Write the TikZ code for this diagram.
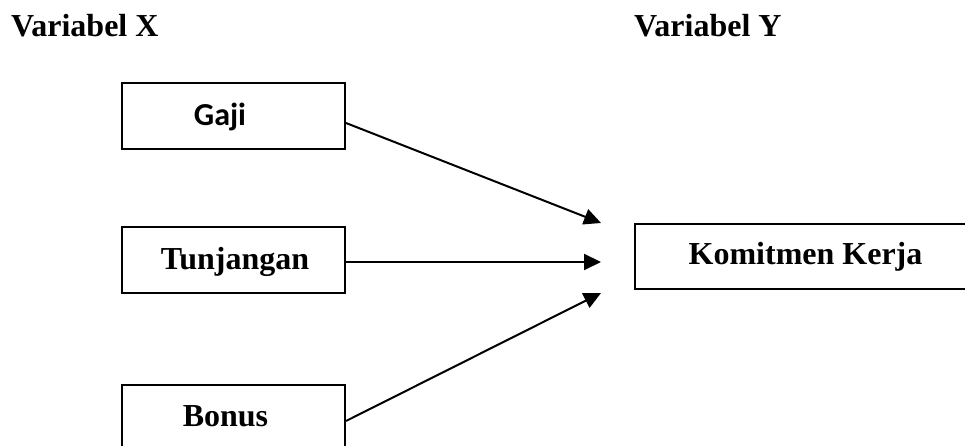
\documentclass[tikz,border=0pt]{standalone}
\usepackage{fontspec}
\setmainfont{Liberation Serif}
\newfontfamily\carlito{Carlito}
\usetikzlibrary{arrows.meta}
\begin{document}
\begin{tikzpicture}[x=1pt,y=-1pt,
  box/.style={draw, line width=2pt, inner sep=0pt, minimum height=66pt},
  lbl/.style={anchor=base, inner sep=0pt, font=\fontsize{32}{36}\selectfont\bfseries},
  head/.style={anchor=base west, inner sep=0pt, font=\fontsize{32}{36}\selectfont\bfseries},
  conn/.style={line width=2pt, -{Triangle[length=17pt,width=16pt]}}]
\useasboundingbox (0,0) rectangle (965,446);
\clip (0,0) rectangle (965,446);
\fill[white] (0,0) rectangle (965,446);
\node[head] (vx) at (11,37) {Variabel X};
\node[head] (vy) at (634,37) {Variabel Y};
\node[box, minimum width=223pt] (gaji) at (233.5,116) {};
\node[box, minimum width=223pt] (tunj) at (233.5,260) {};
\node[box, minimum width=223pt] (bonus) at (233.5,418) {};
\node[box, minimum width=341pt, minimum height=65pt] (kom) at (805.5,256.5) {};
\node[lbl, font=\fontsize{32}{36}\selectfont\bfseries\carlito] (tgaji) at (220,126) {Gaji};
\node[lbl] (ttunj) at (235,269) {Tunjangan};
\node[lbl] (tbonus) at (225.5,426) {Bonus};
\node[lbl] (tkom) at (805.5,264) {Komitmen Kerja};
\coordinate (t1) at (601,223);
\coordinate (t2) at (601,262);
\coordinate (t3) at (601,293);
\draw[conn] ([yshift=-7pt]gaji.east) -- (t1);
\draw[conn] ([yshift=-2pt]tunj.east) -- (t2);
\draw[conn] ([yshift=-3pt]bonus.east) -- (t3);
\end{tikzpicture}
\end{document}
